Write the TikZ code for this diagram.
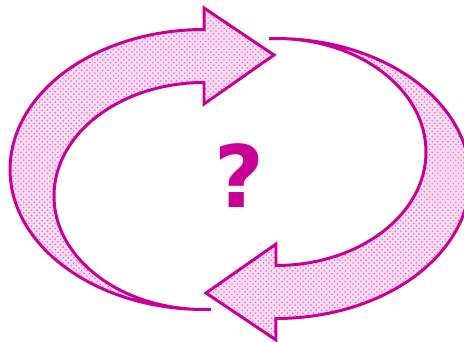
\documentclass[tikz,border=0pt]{standalone}
\usepackage{fontspec}
\newfontfamily\qfont{DejaVu Sans}
\usetikzlibrary{patterns}
\definecolor{cline}{RGB}{200,0,150}
\definecolor{cdots}{RGB}{230,110,200}
\definecolor{cbase}{RGB}{251,220,243}
\newcommand{\bentarrow}{%
  (210.8,32.6) arc[start angle=272, end angle=90, x radius=194, y radius=140]
  -- (204,334) -- (274,287) -- (204,238) -- (204,259.5)
  arc[start angle=90, end angle=270, x radius=150, y radius=113.5] -- cycle}

\begin{document}
\begin{tikzpicture}[x=0.02cm,y=0.02cm,
    arrowshape/.style={draw=cline, line width=1.7pt, line join=miter,
      preaction={fill=cbase}, pattern=crosshatch dots, pattern color=cdots}]
  \useasboundingbox (0,0) rectangle (464,342);
  % upper arrow, pointing right
  \draw[arrowshape] \bentarrow;
  % lower arrow, pointing left
  \begin{scope}[rotate around={180:(240,168)}]
    \draw[arrowshape] \bentarrow;
  \end{scope}
  \node[text=cline, font=\qfont\bfseries\fontsize{49}{49}\selectfont, anchor=base] (quest) at (239,134) {?};
\end{tikzpicture}
\end{document}
